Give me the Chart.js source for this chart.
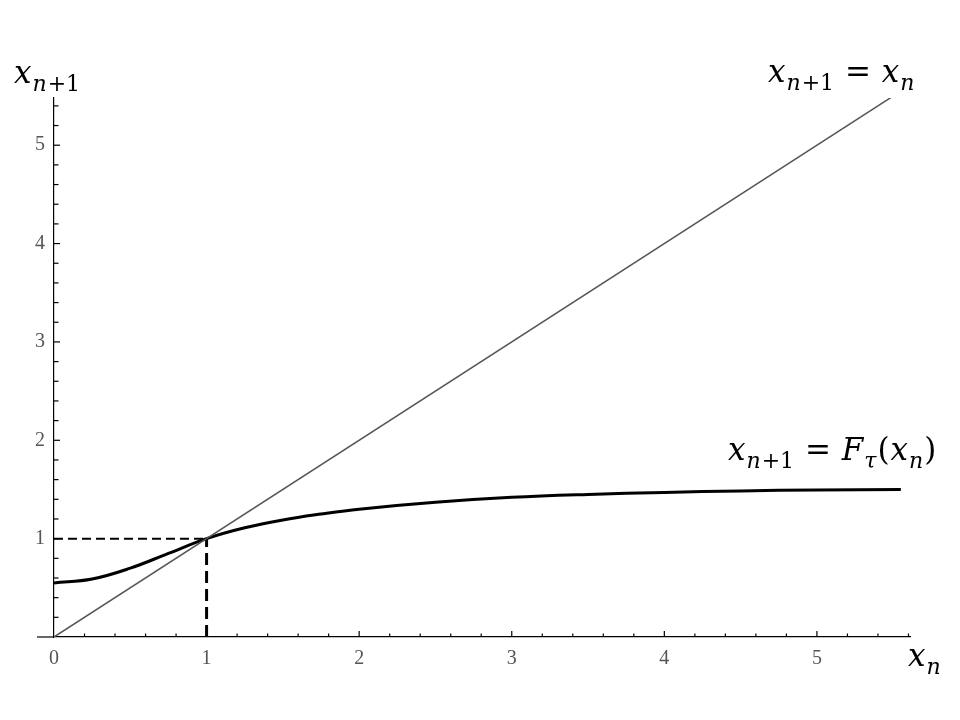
<!DOCTYPE html>
<html>
<head>
<meta charset="utf-8">
<script src="https://cdn.jsdelivr.net/npm/chart.js@4.4.1/dist/chart.umd.min.js"></script>
<style>
  html, body { margin: 0; padding: 0; background: #fff; }
  #wrap { width: 960px; height: 720px; }
</style>
</head>
<body>
<div id="wrap"><canvas id="plot"></canvas></div>
<script>
// values
var curveX = [0, 0.25, 0.5, 0.75, 1, 1.25, 1.5, 1.75, 2, 2.5, 3, 3.5, 4, 4.5, 5, 5.55];
var curveY = [0.55, 0.59, 0.70, 0.85, 1.0, 1.11, 1.19, 1.25, 1.30, 1.37, 1.42, 1.45, 1.47, 1.485, 1.495, 1.50];
var diagX = [0, 5.55];
var diagY = [0, 5.55];
var fixX = 1;
var fixY = 1;
var tickLabels = ['0', '1', '2', '3', '4', '5'];

var toPts = function(xs, ys){
    return xs.map(function(x, i){ return {x: x, y: ys[i]}; });
};

// inward tick marks + axis extension + math labels
var mathPlugin = {
    id: 'math',
    afterDraw: function(chart){
        var ctx = chart.ctx;
        var xs = chart.scales.x, ys = chart.scales.y;
        var x0 = xs.getPixelForValue(0), y0 = ys.getPixelForValue(0);
        ctx.save();
        ctx.strokeStyle = '#000';
        ctx.lineWidth = 1.2;
        // x axis a bit left of origin
        ctx.beginPath();
        ctx.moveTo(x0 - 17, y0);
        ctx.lineTo(x0, y0);
        ctx.stroke();
        var v, p, len;
        for (v = 0.2; v <= xs.max + 1e-6; v += 0.2) {
            p = xs.getPixelForValue(v);
            len = Math.abs(v - Math.round(v)) < 1e-6 ? 6 : 3.5;
            ctx.beginPath();
            ctx.moveTo(p, y0);
            ctx.lineTo(p, y0 - len);
            ctx.stroke();
        }
        for (v = 0.2; v <= ys.max + 1e-6; v += 0.2) {
            p = ys.getPixelForValue(v);
            len = Math.abs(v - Math.round(v)) < 1e-6 ? 6 : 4.5;
            ctx.beginPath();
            ctx.moveTo(x0, p);
            ctx.lineTo(x0 + len, p);
            ctx.stroke();
        }
        ctx.restore();

        var drawMath = function(parts, x, y){
            ctx.save();
            ctx.fillStyle = '#000';
            ctx.textBaseline = 'alphabetic';
            ctx.textAlign = 'left';
            parts.forEach(function(pt){
                var sub = pt[1].indexOf('s') >= 0;
                var it = pt[1].indexOf('i') >= 0;
                ctx.font = (it ? 'italic ' : '') + (sub ? '22px' : '31px') + ' "DejaVu Serif", serif';
                ctx.fillText(pt[0], x, y + (sub ? 8 : 0));
                x += ctx.measureText(pt[0]).width + 1;
            });
            ctx.restore();
        };
        var xn1 = [['x', 'i'], ['n', 'si'], ['+1', 's']];
        var ca = chart.chartArea;
        drawMath(xn1, 14, ca.top - 15);
        drawMath(xn1.concat([[' = ', 'r'], ['x', 'i'], ['n', 'si']]), ca.right - 142, ca.top - 16);
        drawMath(xn1.concat([[' = ', 'r'], ['F', 'i'], ['τ', 'si'], ['(', 'r'], ['x', 'i'], ['n', 'si'], [')', 'r']]),
                 ca.right - 182, ys.getPixelForValue(1.8));
        drawMath([['x', 'i'], ['n', 'si']], ca.right - 2, y0 + 29);
    }
};

var ctx = document.getElementById('plot').getContext('2d');
var chart = new Chart(ctx, {
    type: 'line',
    data: {
        datasets: [{
            data: toPts(diagX, diagY),
            borderColor: '#555',
            borderWidth: 1.5,
            pointRadius: 0
        }, {
            data: toPts(curveX, curveY),
            borderColor: '#000',
            borderWidth: 3,
            pointRadius: 0,
            tension: 0.4
        }, {
            data: toPts([0, fixX], [fixY, fixY]),
            borderColor: '#000',
            borderWidth: 2,
            borderDash: [9, 5],
            pointRadius: 0
        }, {
            data: toPts([fixX, fixX], [0, fixY]),
            borderColor: '#000',
            borderWidth: 3,
            borderDash: [12, 6],
            pointRadius: 0
        }]
    },
    options: {
        responsive: true,
        maintainAspectRatio: false,
        animation: false,
        layout: { padding: { left: 0, top: 98, right: 50, bottom: 45 } },
        plugins: { legend: { display: false }, tooltip: { enabled: false } },
        scales: {
            x: {
                type: 'linear',
                min: 0,
                max: 5.61,
                afterFit: function(s){ s.height = 38; },
                grid: { display: false, drawTicks: false },
                border: { display: true, color: '#000', width: 1.2 },
                ticks: {
                    stepSize: 1,
                    padding: 10,
                    color: '#555',
                    font: { family: '"Liberation Serif", serif', size: 20 },
                    callback: function(v){ return tickLabels[v] || ''; }
                }
            },
            y: {
                type: 'linear',
                min: 0,
                max: 5.48,
                afterFit: function(s){ s.width = 54; },
                grid: { display: false, drawTicks: false },
                border: { display: true, color: '#000', width: 1.2 },
                ticks: {
                    stepSize: 1,
                    padding: 9,
                    color: '#555',
                    font: { family: '"Liberation Serif", serif', size: 20 },
                    callback: function(v){ return v === 0 ? '' : (tickLabels[v] || ''); }
                }
            }
        }
    },
    plugins: [mathPlugin]
});
</script>
</body>
</html>
